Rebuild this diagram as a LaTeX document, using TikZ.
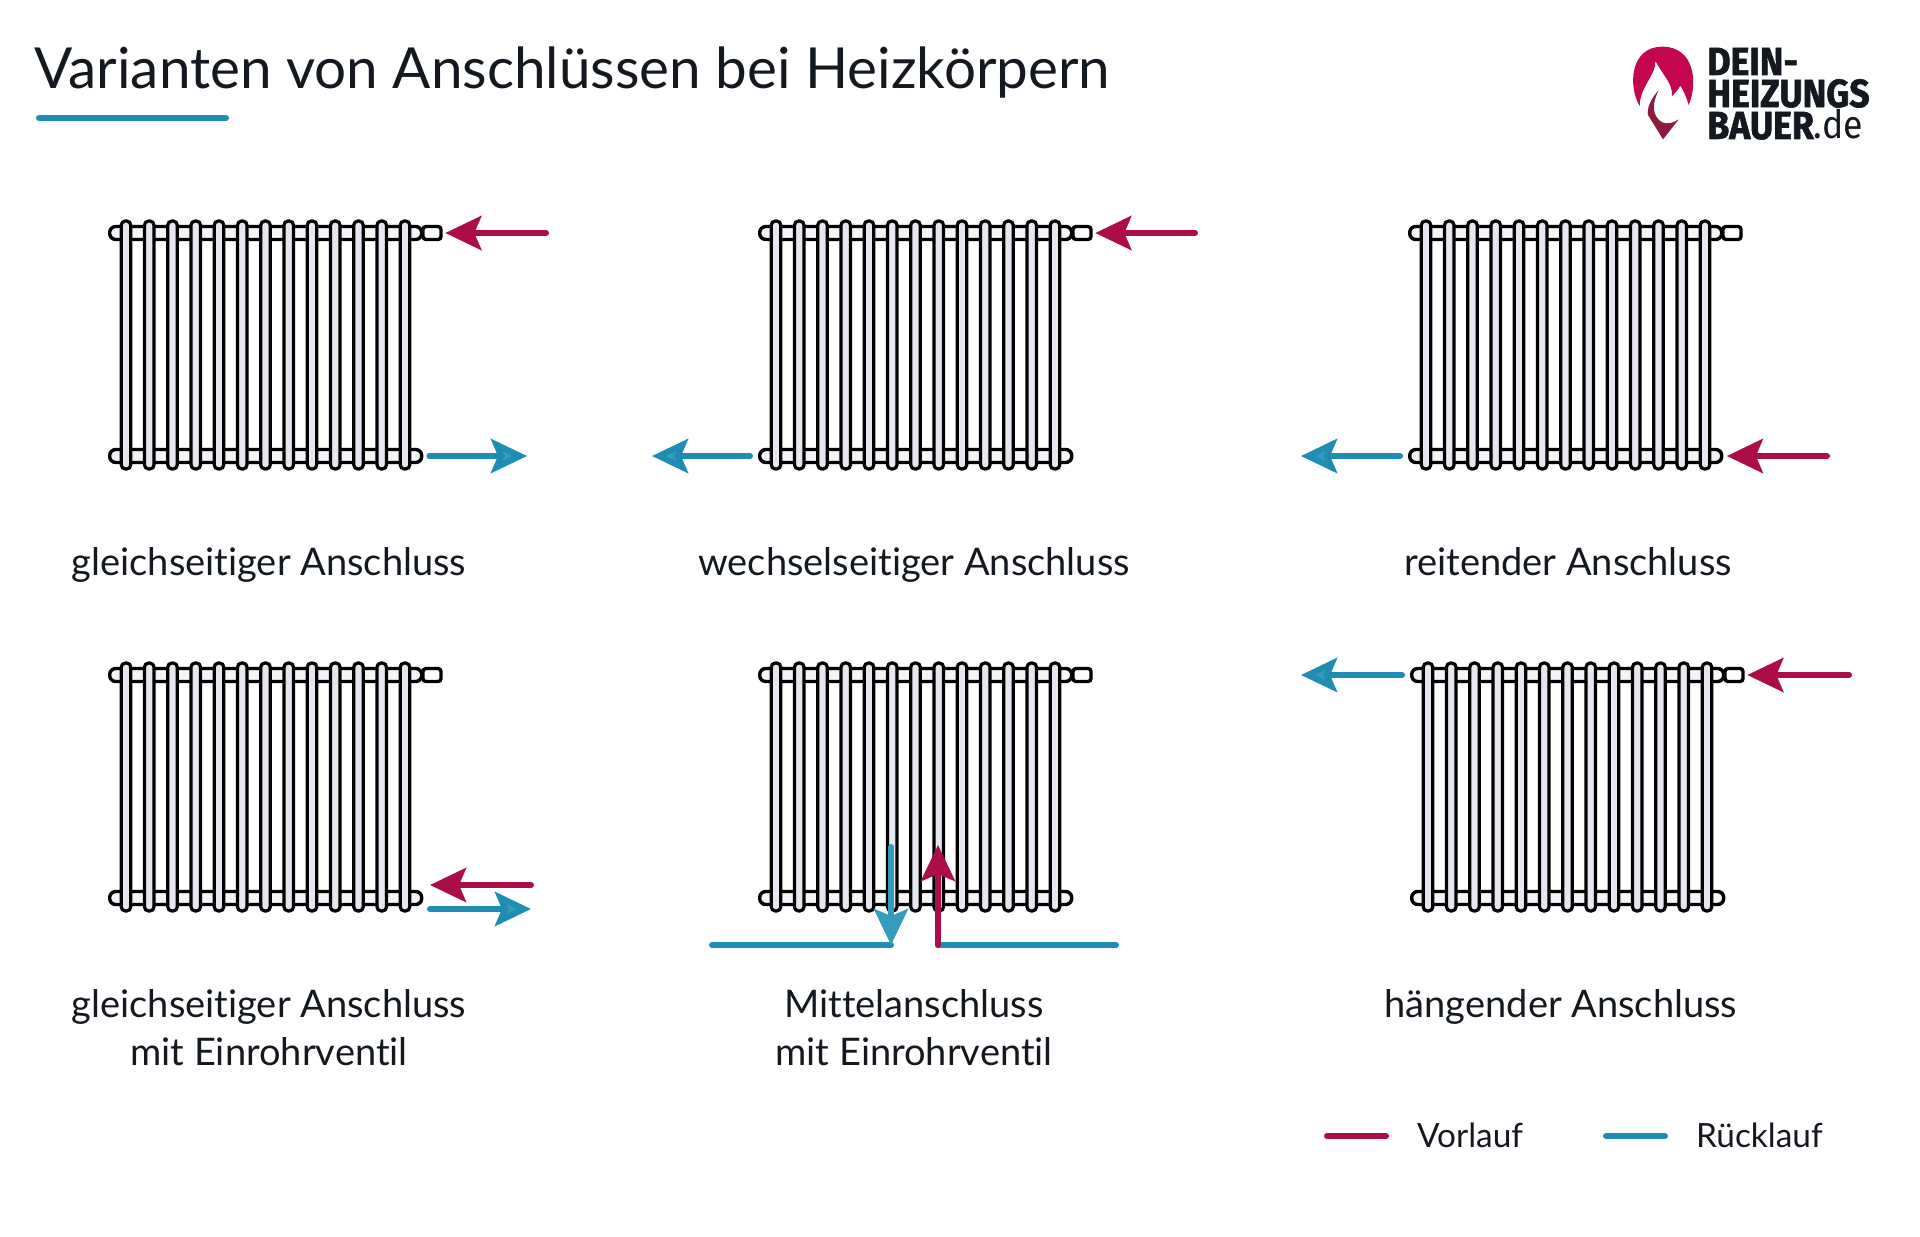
\documentclass[tikz,border=0pt]{standalone}
\usepackage{fontspec}
\setmainfont[Ligatures=NoCommon]{Lato}
\newfontfamily\logofont[BoldFeatures={FakeBold=1.6}]{Fira Sans}
\usetikzlibrary{arrows.meta, positioning}
\definecolor{vorrot}{HTML}{AC0C47}
\definecolor{rueckblau}{HTML}{1F8DB3}
\definecolor{kopfblau}{HTML}{359CBC}
\definecolor{textdunkel}{HTML}{14181F}
\definecolor{rohrgrau}{HTML}{E6E6EE}
\definecolor{logorot}{HTML}{C4064F}
\definecolor{logodunkel}{HTML}{8E1B3B}
\begin{document}
\begin{tikzpicture}[
    x=0.5pt, y=-0.5pt, text=textdunkel,
    header/.style={draw=black, fill=rohrgrau!40, line width=1.7pt, rounded corners=3pt,
                   inner sep=0pt, minimum width=156pt, minimum height=6.5pt, anchor=west},
    valve/.style={draw=black, fill=white, line width=1.7pt, rounded corners=1.5pt,
                  inner sep=0pt, minimum width=9pt, minimum height=6.5pt},
    tube/.style={draw=black, fill=rohrgrau, line width=1.6pt, rounded corners=2.1pt},
    vorpfeil/.style={draw=vorrot, line width=3pt, line cap=round,
                     -{Stealth[length=18pt, width=17pt, inset=3.5pt, fill=vorrot]}},
    rueckpfeil/.style={draw=rueckblau, line width=3pt, line cap=round,
                     -{Stealth[length=18pt, width=17pt, inset=3.5pt, fill=kopfblau]}},
    rueckrohr/.style={draw=rueckblau, line width=3pt, line cap=round},
    vorrohr/.style={draw=vorrot, line width=3pt, line cap=round},
    caption/.style={font=\fontsize{19}{24}\selectfont, align=center, anchor=north},
    legende/.style={font=\fontsize{16.7}{18}\selectfont, anchor=west},
    radiator/.pic={
        \node[header] (-top) at (0,0) {};
        \node[header] (-bot) at (0,223) {};
        \foreach \i in {0,...,12}
            \draw[tube] (13.2+\i*23.25,-12) rectangle (22.8+\i*23.25,236);
        \node[valve] (-valve) at (324,0) {};
    }
]
\useasboundingbox (0,0) rectangle (1920,1236);

% Titel
\node[font=\fontsize{28.3}{32}\selectfont, anchor=base west, inner sep=0pt] (titel) at (34,89)
    {Varianten von Anschlüssen bei Heizkörpern};
\coordinate (titelA) at (39,118);
\coordinate (titelB) at (226,118);
\draw[rueckrohr] (titelA)--(titelB);

% Logo
\begin{scope}[shift={(1598,20)}, x=0.1667pt, y=-0.1667pt]
\fill[logorot] (125,258) .. controls (90,200) and (95,80) .. (193,80)
    .. controls (290,80) and (300,190) .. (272,255)
    .. controls (265,230) and (255,210) .. (247,197)
    .. controls (240,210) and (230,220) .. (222,228)
    .. controls (225,190) and (190,160) .. (172,122)
    .. controls (175,165) and (125,200) .. (125,258) -- cycle;
\fill[logodunkel] (182,210) .. controls (160,235) and (145,265) .. (150,285)
    -- (195,358) -- (242,298)
    .. controls (215,315) and (190,315) .. (175,290)
    .. controls (160,265) and (170,235) .. (182,210) -- cycle;
\end{scope}
\begin{scope}[every node/.style={anchor=base west, inner sep=0pt, xscale=0.91, transform shape,
    font=\logofont\bfseries\fontsize{19.6}{20}\selectfont, text=textdunkel}]
\node (logoa) at (1707,75) {DEIN-};
\node (logob) at (1707,107) {HEIZUNGS};
\node (logoc) at (1707,139) {BAUER\textmd{.de}};
\end{scope}

% Heizkoerper
\pic (gleich)   at (108,233)  {radiator};
\pic (wechsel)  at (758,233)  {radiator};
\pic (reitend)  at (1408,233) {radiator};
\pic (ventil)   at (108,675)  {radiator};
\pic (mitte)    at (758,675)  {radiator};
\pic (haengend) at (1410,675) {radiator};

% freie Enden
\coordinate (gleichVor)    at (546,233);
\coordinate (gleichRueck)  at (527,456);
\coordinate (wechselVor)   at (1195,233);
\coordinate (wechselRueck) at (652,456);
\coordinate (reitendVor)   at (1827,456);
\coordinate (reitendRueck) at (1301,456);
\coordinate (ventilVorA)   at (531,885);
\coordinate (ventilVorB)   at (430,885);
\coordinate (ventilRueckA) at (430,909);
\coordinate (ventilRueckB) at (531,909);
\coordinate (mitteL) at (712,945);
\coordinate (mitteM) at (891,945);
\coordinate (mitteT) at (891,847);
\coordinate (mitteN) at (938,945);
\coordinate (mitteS) at (938,845);
\coordinate (mitteR) at (1116,945);
\coordinate (haengendVor)   at (1849,675);
\coordinate (haengendRueck) at (1301,675);

\draw[vorpfeil, shorten >=1.3pt] (gleichVor)--(gleich-valve);
\draw[rueckpfeil, shorten <=3pt] (gleich-bot)--(gleichRueck);
\draw[vorpfeil, shorten >=1.3pt] (wechselVor)--(wechsel-valve);
\draw[rueckpfeil, shorten <=4pt] (wechsel-bot)--(wechselRueck);
\draw[vorpfeil, shorten >=1.7pt] (reitendVor)--(reitend-bot);
\draw[rueckpfeil, shorten <=4pt] (reitend-bot)--(reitendRueck);
\draw[vorpfeil] (ventilVorA)--(ventilVorB);
\draw[rueckpfeil] (ventilRueckA)--(ventilRueckB);
\draw[rueckrohr] (mitteL)--(mitteM);
\draw[rueckpfeil, draw=kopfblau] (mitteT)--(mitteM);
\draw[rueckrohr] (mitteN)--(mitteR);
\draw[vorpfeil] (mitteN)--(mitteS);
\draw[vorpfeil, shorten >=1.3pt] (haengendVor)--(haengend-valve);
\draw[rueckpfeil, shorten <=4pt] (haengend-top)--(haengendRueck);

% Beschriftung
\node[caption] (textA) at (269,540)  {gleichseitiger Anschluss};
\node[caption] (textB) at (914,540)  {wechselseitiger Anschluss};
\node[caption] (textC) at (1568,540) {reitender Anschluss};
\node[caption] (textD) at (269,982)  {gleichseitiger Anschluss\\mit Einrohrventil};
\node[caption] (textE) at (914,982)  {Mittelanschluss\\mit Einrohrventil};
\node[caption] (textF) at (1561,982) {hängender Anschluss};

% Legende
\coordinate (legVorA) at (1327,1136);
\coordinate (legVorB) at (1386,1136);
\coordinate (legRueckA) at (1606,1136);
\coordinate (legRueckB) at (1665,1136);
\draw[vorrohr] (legVorA)--(legVorB);
\draw[rueckrohr] (legRueckA)--(legRueckB);
\node[legende] (legVor) at (1410,1135) {Vorlauf};
\node[legende] (legRueck) at (1689,1135) {Rücklauf};
\end{tikzpicture}
\end{document}
